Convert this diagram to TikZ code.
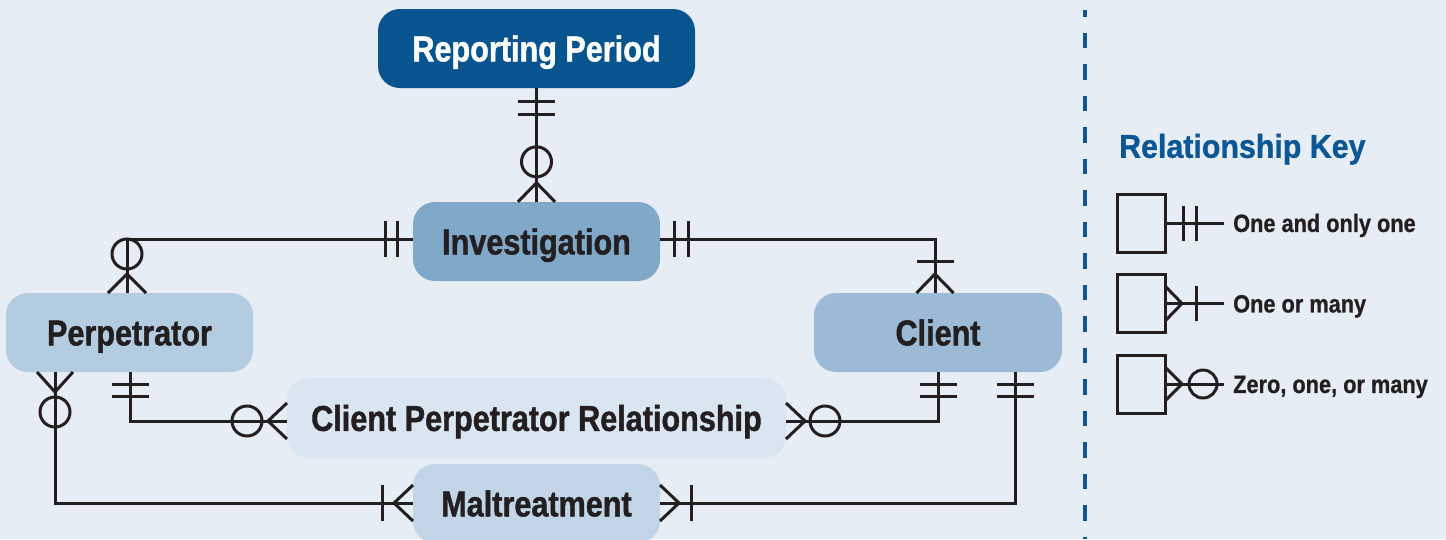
\documentclass[tikz,border=0pt]{standalone}
\usepackage{fontspec}
\setmainfont{Liberation Sans}
\newfontfamily\entfont{Liberation Sans}[FakeStretch=0.85,FakeBold=1.2]
\newfontfamily\keytfont{Liberation Sans}[FakeStretch=0.92,FakeBold=1.0]
\newfontfamily\keylfont{Liberation Sans}[FakeStretch=0.87,FakeBold=0.8]
\usetikzlibrary{calc}
\definecolor{bg}{HTML}{E6EDF4}
\definecolor{ink}{HTML}{231F20}
\definecolor{rpfill}{HTML}{07548F}
\definecolor{invfill}{HTML}{80A8C9}
\definecolor{perpfill}{HTML}{B4CCE0}
\definecolor{clifill}{HTML}{9CBAD5}
\definecolor{cprfill}{HTML}{D9E6F1}
\definecolor{malfill}{HTML}{C1D5E7}
\definecolor{keyblue}{HTML}{0B5796}
\begin{document}
\begin{tikzpicture}[x=1pt,y=-1pt,
  rel/.style={line width=3pt, draw=ink},
  ent/.style={rectangle, rounded corners=22pt, inner sep=0pt, minimum height=79pt,
    text=ink, font=\entfont\bfseries\fontsize{36}{40}\selectfont,
    text height=25.8pt, text depth=0pt},
  keybox/.style={rectangle, draw=ink, line width=3pt, inner sep=0pt,
    minimum width=48pt, minimum height=58pt},
  keylab/.style={anchor=west, inner sep=0pt, text=ink,
    font=\keylfont\bfseries\fontsize{25}{28}\selectfont,
    text height=17.9pt, text depth=0pt}
]
\fill[bg] (0,0) rectangle (1446,539);
\useasboundingbox (0,0) rectangle (1446,539);
\clip (0,0) rectangle (1446,539);

% entities
\node[ent, fill=rpfill, text=white, minimum width=317pt] (rp) at (536.5,48.5) {Reporting Period};
\node[ent, fill=invfill, minimum width=247pt] (inv) at (536.5,241.5) {Investigation};
\node[ent, fill=perpfill, minimum width=247pt] (perp) at (129.5,332.5) {Perpetrator};
\node[ent, fill=clifill, minimum width=248pt] (cli) at (938,332.5) {Client};
\node[ent, fill=cprfill, minimum width=499pt, minimum height=80pt] (cpr) at (536.5,418) {Client Perpetrator Relationship};
\node[ent, fill=malfill, minimum width=247pt] (mal) at (536.5,503.5) {Maltreatment};

% 1: Reporting Period -- Investigation
\draw[rel] (rp.south) -- (inv.north);
\draw[rel] ($(rp.south)+(-18.5,13)$) -- ++(37,0);
\draw[rel] ($(rp.south)+(-18.5,26)$) -- ++(37,0);
\draw[rel] ($(inv.north)+(0,-40)$) circle (15pt);
\draw[rel] ($(inv.north)+(-18.5,0)$) -- ($(inv.north)+(0,-19)$) -- ($(inv.north)+(18.5,0)$);

% 2: Investigation -- Perpetrator
\coordinate (b2) at (127,239);
\draw[rel] (inv.west |- b2) -- (b2) -- (b2 |- perp.north);
\draw[rel] (385,221) -- (385,257);
\draw[rel] (397,221) -- (397,257);
\draw[rel] (127,254) circle (15pt);
\draw[rel] (108,293) -- (127,274) -- (146,293);

% 3: Investigation -- Client
\coordinate (b3) at (935,239);
\draw[rel] (inv.east |- b3) -- (b3) -- (b3 |- cli.north);
\draw[rel] (674,221) -- (674,257);
\draw[rel] (688,221) -- (688,257);
\draw[rel] (916.5,261) -- (953.5,261);
\draw[rel] (916.5,293) -- (935,274) -- (953.5,293);

% 4: Perpetrator -- Maltreatment
\coordinate (b4) at (55,503);
\draw[rel] (b4 |- perp.south) -- (b4) -- (b4 -| mal.west);
\draw[rel] (37,372) -- (55,392) -- (73,372);
\draw[rel] (55,412) circle (15pt);
\draw[rel] (382,485) -- (382,521);
\draw[rel] (413,485) -- (394,503) -- (413,521);

% 5: Perpetrator -- Client Perpetrator Relationship
\coordinate (b5) at (130,421);
\draw[rel] (b5 |- perp.south) -- (b5) -- (b5 -| cpr.west);
\draw[rel] (111.5,384) -- (148.5,384);
\draw[rel] (111.5,396) -- (148.5,396);
\draw[rel] (247,421) circle (15pt);
\draw[rel] (287,403) -- (268,421) -- (287,439);

% 6: Client -- Client Perpetrator Relationship
\coordinate (b6) at (938,421);
\draw[rel] (b6 |- cli.south) -- (b6) -- (b6 -| cpr.east);
\draw[rel] (919.5,384) -- (956.5,384);
\draw[rel] (919.5,396) -- (956.5,396);
\draw[rel] (786,403) -- (805,421) -- (786,439);
\draw[rel] (825,421) circle (15pt);

% 7: Client -- Maltreatment
\coordinate (b7) at (1015,503);
\draw[rel] (b7 |- cli.south) -- (b7) -- (b7 -| mal.east);
\draw[rel] (996.5,384) -- (1033.5,384);
\draw[rel] (996.5,396) -- (1033.5,396);
\draw[rel] (660,485) -- (679,503) -- (660,521);
\draw[rel] (691,485) -- (691,521);

% divider
\draw[line width=3.2pt, draw=keyblue, dash pattern=on 15.5pt off 16pt, dash phase=8.5pt] (1085,9.6) -- (1085,539);

% key
\node[anchor=west, inner sep=0pt, text=keyblue, font=\keytfont\bfseries\fontsize{33}{36}\selectfont,
  text height=23.6pt, text depth=0pt] (kt) at (1119,146) {Relationship Key};

\node[keybox] (k1) at (1141,223) {};
\coordinate (e1) at (1224,223);
\draw[rel] (k1.east) -- (e1);
\draw[rel] (1183,205.5) -- (1183,240.5);
\draw[rel] (1196,205.5) -- (1196,240.5);
\node[keylab] (l1) at (1233,223) {One and only one};

\node[keybox] (k2) at (1141,303.5) {};
\coordinate (e2) at (1224,303.5);
\draw[rel] (k2.east) -- (e2);
\draw[rel] (1165,286) -- (1182,303.5) -- (1165,321);
\draw[rel] (1196,286) -- (1196,321);
\node[keylab] (l2) at (1233,303.5) {One or many};

\node[keybox] (k3) at (1141,384) {};
\coordinate (e3) at (1224,384);
\draw[rel] (k3.east) -- (e3);
\draw[rel] (1165,367) -- (1182,384) -- (1165,401);
\draw[rel] (1203,384) circle (14pt);
\node[keylab] (l3) at (1233,384) {Zero, one, or many};
\end{tikzpicture}
\end{document}
